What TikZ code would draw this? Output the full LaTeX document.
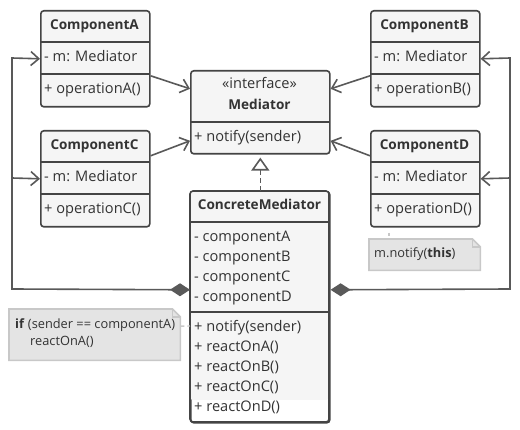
\documentclass[tikz,border=0pt]{standalone}
\usepackage{fontspec}
\setmainfont{Open Sans}
\usetikzlibrary{arrows.meta}
\definecolor{bd}{HTML}{444444}
\definecolor{ln}{HTML}{595959}
\definecolor{fillc}{HTML}{F5F5F5}
\definecolor{txt}{HTML}{333333}
\definecolor{notefill}{HTML}{E4E4E4}
\definecolor{notebd}{HTML}{C8C8C8}
\begin{document}
\begin{tikzpicture}[x=1pt,y=-1pt,
  box/.style={draw=bd, line width=1.6pt, rounded corners=3pt, fill=fillc, anchor=north west, inner sep=0pt},
  sep/.style={draw=bd, line width=1.6pt},
  ttl/.style={font=\fontsize{13.6}{16}\selectfont\bfseries, text=txt, inner sep=0pt, text height=10pt, text depth=3pt},
  row/.style={font=\fontsize{14.6}{16}\selectfont, text=txt, inner sep=0pt, anchor=west, text height=10pt, text depth=3pt},
  conn/.style={draw=ln, line width=1.6pt},
  barb/.tip={Straight Barb[length=8pt, width=14pt, line width=1.6pt]},
  dia/.tip={Diamond[length=20pt, width=13pt, fill=ln]},
  arr/.style={conn, -barb},
  notebox/.style={draw=none, inner sep=0pt, anchor=north west},
  noteline/.style={draw=notebd, fill=notefill, line width=1.6pt},
  notetxt/.style={font=\fontsize{12.8}{16}\selectfont, text=txt, inner sep=0pt, anchor=west, text height=9pt, text depth=3pt},
  notelink/.style={draw=notebd, line width=1.4pt, dash pattern=on 4pt off 3pt}
]
\useasboundingbox (0,0) rectangle (520,430);

% ---------- boxes ----------
\node[box, minimum width=109pt, minimum height=96pt] (A) at (40,10) {};
\node[box, minimum width=109pt, minimum height=96pt] (B) at (370,10) {};
\node[box, minimum width=109pt, minimum height=96pt] (C) at (40,130) {};
\node[box, minimum width=109pt, minimum height=96pt] (D) at (370,130) {};
\node[box, minimum width=139pt, minimum height=83pt] (M) at (190,70) {};
\node[box, fill=white, minimum width=139pt, minimum height=231pt] (CM) at (190,191) {};
\fill[fillc, rounded corners=2pt] (190.8,191.8) rectangle (328.2,400);
\draw[bd, line width=1.6pt, rounded corners=3pt] (190,191) rectangle (329,422);

% dividers
\draw[sep] (40,42) -- (149,42);   \draw[sep] (40,74) -- (149,74);
\draw[sep] (370,42) -- (479,42);  \draw[sep] (370,74) -- (479,74);
\draw[sep] (40,162) -- (149,162); \draw[sep] (40,194) -- (149,194);
\draw[sep] (370,162) -- (479,162);\draw[sep] (370,194) -- (479,194);
\draw[sep] (190,122) -- (329,122);
\draw[sep] (190,222) -- (329,222); \draw[sep] (190,312) -- (329,312);

% ---------- texts ----------
\node[ttl] (At) at (94.5,26) {ComponentA};
\node[row] (Aa) at (44,58) {- m: Mediator};
\node[row] (Ao) at (44,90) {+ operationA()};
\node[ttl] (Bt) at (424.5,26) {ComponentB};
\node[row] (Ba) at (374,58) {- m: Mediator};
\node[row] (Bo) at (374,90) {+ operationB()};
\node[ttl] (Ct) at (94.5,146) {ComponentC};
\node[row] (Ca) at (44,178) {- m: Mediator};
\node[row] (Co) at (44,210) {+ operationC()};
\node[ttl] (Dt) at (424.5,146) {ComponentD};
\node[row] (Da) at (374,178) {- m: Mediator};
\node[row] (Do) at (374,210) {+ operationD()};

\node[row, anchor=center] (Mi) at (259.5,85) {«interface»};
\node[ttl] (Mt) at (259.5,106.5) {Mediator};
\node[row] (Mn) at (194,138) {+ notify(sender)};

\node[ttl] (CMt) at (259.5,206.5) {ConcreteMediator};
\node[row] (c1) at (194,238) {- componentA};
\node[row] (c2) at (194,258) {- componentB};
\node[row] (c3) at (194,278) {- componentC};
\node[row] (c4) at (194,298) {- componentD};
\node[row] (m1) at (194,328.5) {+ notify(sender)};
\node[row] (m2) at (194,348.5) {+ reactOnA()};
\node[row] (m3) at (194,368.5) {+ reactOnB()};
\node[row] (m4) at (194,388.5) {+ reactOnC()};
\node[row] (m5) at (194,408) {+ reactOnD()};

% ---------- connectors ----------
\draw[arr] ([yshift=-17pt]A.east) -- ([yshift=23.5pt]M.west);
\draw[arr] ([yshift=23pt]C.east) -- ([yshift=-28.5pt]M.west);
\draw[arr] ([yshift=-17pt]B.west) -- ([yshift=23.5pt]M.east);
\draw[arr] ([yshift=23pt]D.west) -- ([yshift=-28.5pt]M.east);

\draw[conn, dash pattern=on 5pt off 3pt, -{Triangle[open, length=13pt, width=18pt, fill=white, line width=1.6pt]}] (CM.north) -- ([yshift=-3pt]M.south);

\coordinate (Lb) at (12,289);
\coordinate (Lm) at (12,178);
\coordinate (Lt) at (12,58);
\coordinate (Rb) at (510,289);
\coordinate (Rm) at (510,178);
\coordinate (Rt) at (510,58);
\draw[conn, line join=miter, dia-barb] ([yshift=17.5pt]CM.west) -- (Lb) -- (Lt) -- (A.west);
\draw[arr] (Lm) -- (C.west);
\draw[conn, line join=miter, dia-barb] ([yshift=17.5pt]CM.east) -- (Rb) -- (Rt) -- (B.east);
\draw[arr] (Rm) -- (D.east);

% ---------- notes ----------
\node[notebox, minimum width=171pt, minimum height=51pt] (N1) at (9,309) {};
\filldraw[noteline] (N1.south west) -- (N1.north west) -- ([xshift=-8pt]N1.north east) -- ([yshift=-8pt]N1.north east) -- (N1.south east) -- cycle;
\draw[noteline, fill=none] ([xshift=-8pt]N1.north east) |- ([yshift=-8pt]N1.north east);
\node[notetxt] (N1a) at (15,326) {\textbf{if} (sender == componentA)};
\node[notetxt] (N1b) at (30,343) {reactOnA()};
\draw[notelink] ([yshift=8.5pt]N1.east) -- (CM.west |- N1a);

\node[notebox, minimum width=111pt, minimum height=31pt] (N2) at (369,239) {};
\filldraw[noteline] (N2.south west) -- (N2.north west) -- ([xshift=-8pt]N2.north east) -- ([yshift=-8pt]N2.north east) -- (N2.south east) -- cycle;
\draw[noteline, fill=none] ([xshift=-8pt]N2.north east) |- ([yshift=-8pt]N2.north east);
\node[notetxt] (N2a) at (374,255) {m.notify(\textbf{this})};
\coordinate (N2top) at (389,239);
\draw[notelink, dash pattern=on 3pt off 5pt, dash phase=3pt] (D.south -| N2top) -- (N2top);
\end{tikzpicture}
\end{document}
